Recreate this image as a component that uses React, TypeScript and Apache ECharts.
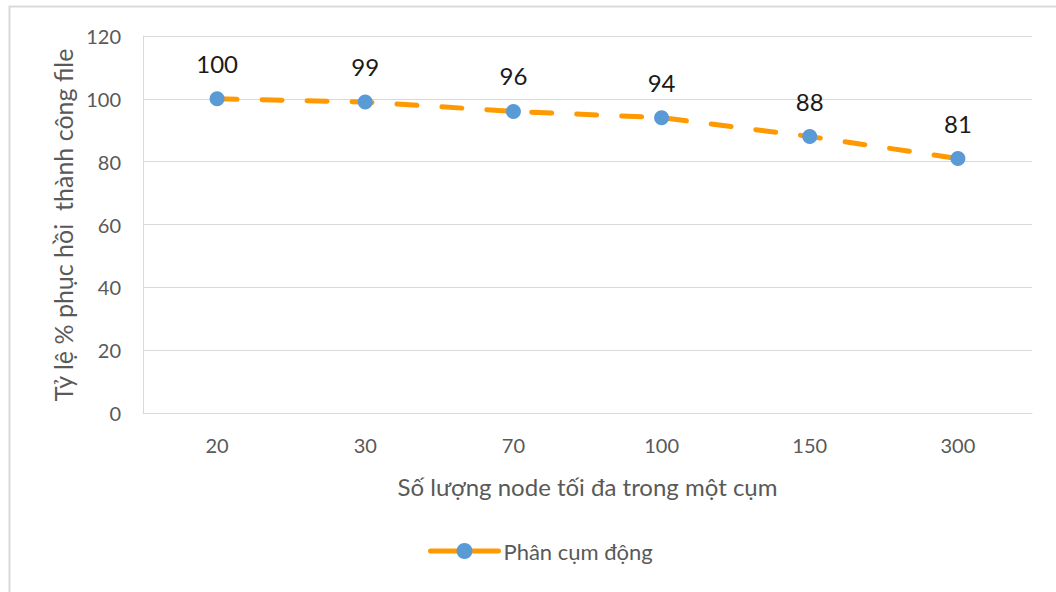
import React, { useEffect, useRef } from "react";
import * as echarts from "echarts";

// Maximum nodes per cluster
const categories: string[] = ["20", "30", "70", "100", "150", "300"];
// Recovery success rate (%)
const recoveryRate: number[] = [100, 99, 96, 94, 88, 81];

const seriesName = "Phân cụm động";
const xAxisName = "Số lượng node tối đa trong một cụm";
const yAxisName = "Tỷ lệ % phục hồi  thành công file";

const FONT = "Lato, 'Open Sans', sans-serif";

export default function App() {
  const ref = useRef<HTMLDivElement>(null);

  useEffect(() => {
    if (!ref.current) return;
    const chart = echarts.init(ref.current, undefined, { renderer: "svg" });
    chart.setOption({
      animation: false,
      backgroundColor: "#ffffff",
      textStyle: { fontFamily: FONT },
      graphic: [
        {
          type: "rect",
          shape: { x: 9.5, y: 6.5, width: 1100, height: 700 },
          style: { fill: "none", stroke: "#d9d9d9", lineWidth: 2 },
          silent: true,
        },
        {
          type: "text",
          x: 63,
          y: 225,
          rotation: Math.PI / 2,
          style: {
            text: yAxisName,
            fontFamily: FONT,
            fontSize: 25,
            fill: "#595959",
            align: "center",
            verticalAlign: "middle",
          },
        },
      ],
      grid: { left: 143, right: 24, top: 36, bottom: 179 },
      legend: {
        data: [seriesName],
        left: 423,
        top: 535,
        itemWidth: 68,
        itemHeight: 20,
        itemGap: 9,
        lineStyle: { type: "solid", width: 5, cap: "round" },
        textStyle: { fontFamily: FONT, fontSize: 22, color: "#595959" },
      },
      xAxis: {
        type: "category",
        data: categories,
        boundaryGap: true,
        name: xAxisName,
        nameLocation: "middle",
        nameGap: 61,
        nameTextStyle: { fontFamily: FONT, fontSize: 24, color: "#595959" },
        axisLine: { show: true, lineStyle: { color: "#d9d9d9", width: 1 } },
        axisTick: { show: false },
        axisLabel: { fontFamily: FONT, fontSize: 20, color: "#595959", margin: 22 },
      },
      yAxis: {
        type: "value",
        min: 0,
        max: 120,
        interval: 20,
        axisLine: { show: true, lineStyle: { color: "#d9d9d9", width: 1 } },
        axisTick: { show: false },
        splitLine: { lineStyle: { color: "#d9d9d9", width: 1 } },
        axisLabel: { fontFamily: FONT, fontSize: 20, color: "#595959", margin: 22 },
      },
      series: [
        {
          name: seriesName,
          type: "line",
          data: recoveryRate,
          symbol: "circle",
          symbolSize: 15,
          itemStyle: { color: "#5B9BD5" },
          lineStyle: { color: "#FF9900", width: 5, type: [20, 25], cap: "round" },
          label: {
            show: true,
            position: "top",
            distance: 16,
            fontFamily: FONT,
            fontSize: 24,
            color: "#1a1a1a",
          },
        },
      ],
    });
    return () => chart.dispose();
  }, []);

  return (
    <div
      ref={ref}
      style={{ position: "fixed", left: 0, top: 0, width: 1056, height: 592 }}
    />
  );
}
